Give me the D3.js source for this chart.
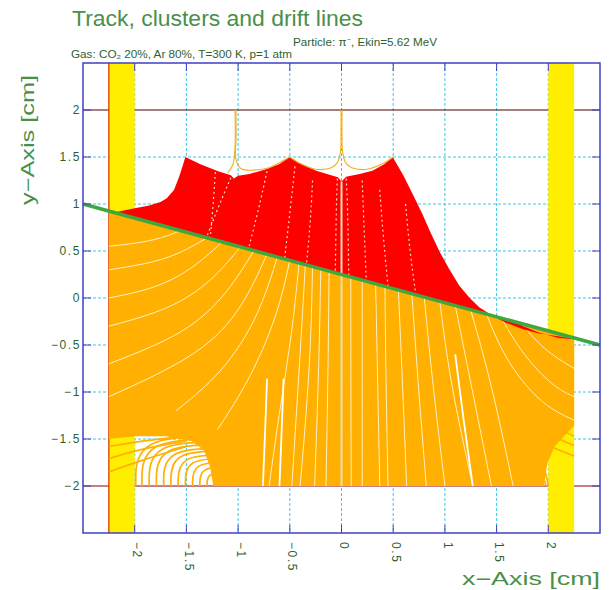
<!DOCTYPE html>
<html>
<head>
<meta charset="utf-8">
<script src="https://cdn.jsdelivr.net/npm/d3@7/dist/d3.min.js"></script>
<style>
  html, body { margin: 0; padding: 0; background: #ffffff; }
  svg { display: block; }
  text { font-family: "Liberation Sans", Arial, sans-serif; }
</style>
</head>
<body>
<svg id="chart" width="610" height="590"></svg>
<script>
// ---- axis ticks ----
const xTicks = [-2, -1.5, -1, -0.5, 0, 0.5, 1, 1.5, 2];
const xTickLabels = ["−2", "−1.5", "−1", "−0.5", "0", "0.5", "1", "1.5", "2"];
const yTicks = [-2, -1.5, -1, -0.5, 0, 0.5, 1, 1.5, 2];
const yTickLabels = ["−2", "−1.5", "−1", "−0.5", "0", "0.5", "1", "1.5", "2"];

// ---- geometry (cm) ----
const sideWalls = [[-2.25, -2.0], [2.0, 2.25]];
const planes = [2, -2];
const track = [[-2.5, 1.0], [2.5, -0.5]];

// region swept by ion drift lines (above the track)
const ionRegion = [
  [-2.2, 0.91], [-2.0, 0.955], [-1.86, 0.985], [-1.75, 1.02], [-1.69, 1.06], [-1.62, 1.15],
  [-1.57, 1.29], [-1.535, 1.41], [-1.51, 1.5],
  [-1.37, 1.425], [-1.2, 1.35], [-1.07, 1.305], [-1.04, 1.27], [-1.0, 1.3],
  [-0.89, 1.32], [-0.73, 1.37], [-0.6, 1.425], [-0.5, 1.5],
  [-0.406, 1.436], [-0.245, 1.354], [-0.116, 1.31], [-0.035, 1.284], [0, 1.24],
  [0.045, 1.29], [0.174, 1.32], [0.30, 1.354], [0.416, 1.426], [0.495, 1.5],
  [0.6, 1.3], [0.69, 1.1], [0.78, 0.9], [0.86, 0.7], [0.95, 0.49], [1.04, 0.31],
  [1.14, 0.13], [1.24, 0.0], [1.335, -0.1], [1.46, -0.19], [1.593, -0.265],
  [1.75, -0.33], [1.9, -0.375], [2.076, -0.404], [2.2, -0.425], [2.25, -0.44],
  [2.1, -0.425], [1.9, -0.365], [1.7, -0.275], [1.5, -0.2]
];

// region swept by electron drift lines (below the track)
const electronRegion = [
  [-2.25, 0.925], [2.25, -0.425],
  [2.25, -1.36], [2.16, -1.46], [2.06, -1.58], [1.99, -1.76], [1.96, -2.0],
  [-1.24, -2.0], [-1.27, -1.8], [-1.33, -1.62], [-1.45, -1.52], [-1.7, -1.47],
  [-2.0, -1.47], [-2.25, -1.5]
];

// electron drift lines at the sparse edges of the region
const electronFringe = [
  [[-1.1, -1.47], [-1.99, -1.47], [-1.99, -2.0]],
  [[-1.1, -1.5], [-1.93, -1.5], [-1.93, -2.0]],
  [[-1.1, -1.53], [-1.86, -1.53], [-1.86, -2.0]],
  [[-1.1, -1.56], [-1.79, -1.56], [-1.79, -2.0]],
  [[-1.1, -1.6], [-1.72, -1.6], [-1.72, -2.0]],
  [[-1.1, -1.63], [-1.65, -1.63], [-1.65, -2.0]],
  [[-1.1, -1.67], [-1.58, -1.67], [-1.58, -2.0]],
  [[-1.1, -1.71], [-1.51, -1.71], [-1.51, -2.0]],
  [[-1.1, -1.75], [-1.44, -1.75], [-1.44, -2.0]],
  [[-1.1, -1.8], [-1.37, -1.8], [-1.37, -2.0]],
  [[-1.1, -1.86], [-1.3, -1.86], [-1.3, -2.0]],
  [[-1.5, -1.47], [-2.0, -1.53], [-2.25, -1.58]],
  [[-1.5, -1.52], [-2.0, -1.62], [-2.25, -1.71]],
  [[-1.5, -1.58], [-2.0, -1.75], [-2.25, -1.85]],
  [[1.6, -1.1], [1.95, -1.32], [2.25, -1.47]],
  [[1.6, -1.2], [1.95, -1.43], [2.25, -1.57]],
  [[1.6, -1.3], [1.92, -1.52], [2.12, -1.63], [2.25, -1.68]],
  [[1.55, -1.4], [1.85, -1.62], [1.97, -1.8], [2.0, -2.0]],
  [[1.5, -1.45], [1.8, -1.65], [1.93, -1.82], [1.98, -2.0]]
];

// ion drift lines reaching the wires at y = 2
const wireLines = [
  [[-1.02, 2.0], [-1.02, 1.7], [-1.02, 1.47], [-0.97, 1.375], [-0.85, 1.36], [-0.72, 1.38], [-0.6, 1.44], [-0.5, 1.5]],
  [[-1.03, 2.0], [-1.03, 1.6], [-1.05, 1.42], [-1.1, 1.33]],
  [[-0.005, 2.0], [-0.005, 1.75], [-0.01, 1.56], [-0.04, 1.44], [-0.1, 1.385], [-0.25, 1.37], [-0.4, 1.43], [-0.5, 1.5]],
  [[0.005, 2.0], [0.005, 1.75], [0.01, 1.56], [0.04, 1.44], [0.1, 1.385], [0.25, 1.37], [0.4, 1.43], [0.5, 1.5]]
];

// light streaks between bundles of ion drift lines
const ionStreaks = [
  [[-1.22, 1.34], [-1.24, 1.0], [-1.27, 0.63]],
  [[-1.07, 1.28], [-1.18, 1.0], [-1.3, 0.66]],
  [[-0.72, 1.35], [-0.8, 0.95], [-0.9, 0.52]],
  [[-0.45, 1.4], [-0.5, 0.9], [-0.55, 0.42]],
  [[-0.28, 1.25], [-0.3, 0.8], [-0.34, 0.35]],
  [[-0.04, 1.27], [-0.05, 1.0], [-0.06, 0.27]],
  [[0.045, 1.27], [0.06, 1.0], [0.07, 0.23]],
  [[0.2, 1.25], [0.22, 0.7], [0.24, 0.18]],
  [[0.37, 1.15], [0.4, 0.7], [0.45, 0.12]],
  [[0.62, 1.0], [0.66, 0.5], [0.72, 0.03]]
];

// light streaks between bundles of electron drift lines
const electronStreaks = [
  [[-1.55, 0.72], [-1.75, 0.63], [-2.0, 0.58], [-2.25, 0.55]],
  [[-1.3, 0.64], [-1.6, 0.45], [-1.9, 0.36], [-2.25, 0.3]],
  [[-1.15, 0.6], [-1.45, 0.3], [-1.8, 0.1], [-2.25, 0.0]],
  [[-0.98, 0.54], [-1.25, 0.18], [-1.65, -0.12], [-2.25, -0.3]],
  [[-0.85, 0.5], [-1.1, 0.05], [-1.5, -0.38], [-2.25, -0.7]],
  [[-0.72, 0.47], [-0.95, -0.1], [-1.35, -0.6], [-2.25, -1.05]],
  [[-0.62, 0.44], [-0.8, -0.2], [-1.15, -0.8], [-1.6, -1.2]],
  [[-0.5, 0.4], [-0.62, -0.2], [-0.9, -0.9], [-1.2, -1.4]],
  [[-0.41, 0.37], [-0.48, -0.4], [-0.6, -1.2], [-0.7, -2.0]],
  [[-0.35, 0.35], [-0.4, -0.6], [-0.48, -2.0]],
  [[-0.28, 0.33], [-0.3, -0.7], [-0.4, -2.0]],
  [[-0.2, 0.31], [-0.22, -0.8], [-0.26, -2.0]],
  [[-0.12, 0.29], [-0.13, -0.8], [-0.15, -2.0]],
  [[0.09, 0.23], [0.09, -0.8], [0.094, -2.0]],
  [[0.2, 0.19], [0.2, -0.9], [0.2, -2.0]],
  [[0.33, 0.15], [0.35, -0.9], [0.37, -2.0]],
  [[0.42, 0.13], [0.43, -0.9], [0.45, -2.0]],
  [[0.55, 0.09], [0.59, -0.9], [0.63, -2.0]],
  [[0.68, 0.05], [0.74, -0.9], [0.82, -2.0]],
  [[0.8, 0.01], [0.88, -0.9], [1.0, -2.0]],
  [[0.95, -0.03], [1.05, -0.9], [1.27, -2.0]],
  [[1.1, -0.08], [1.25, -0.9], [1.45, -2.0]],
  [[1.25, -0.13], [1.45, -0.9], [1.66, -2.0]],
  [[1.4, -0.17], [1.6, -0.7], [1.95, -1.15], [2.25, -1.3]],
  [[1.55, -0.22], [1.75, -0.6], [2.05, -0.95], [2.25, -1.05]],
  [[1.75, -0.28], [1.95, -0.55], [2.25, -0.75]]
];

// wider empty gaps between electron bundles
const electronGaps = [
  [[-0.72, -0.86], [-0.74, -1.45], [-0.76, -2.0]],
  [[-0.56, -0.86], [-0.58, -1.45], [-0.6, -2.0]],
  [[1.1, -0.6], [1.18, -1.3], [1.27, -2.0]]
];
const centreLine = [[0, 1.24], [0, -2.0]];

// ---- layout ----
const svg = d3.select("#chart");
const x = d3.scaleLinear().domain([-2.5, 2.5]).range([83, 600]);
const y = d3.scaleLinear().domain([-2.5, 2.5]).range([533, 63]);
const [x0, x1] = x.range();
const [y0, y1] = y.range();

const TEXT_DARK = "#2f5f2f";
const TEXT_GREEN = "#4a8f4a";
const ORANGE = "#ffb000";
const RED = "#ff0000";

svg.append("rect").attr("width", 610).attr("height", 590).attr("fill", "#ffffff");

const through = d3.line().x(d => x(d[0])).y(d => y(d[1])).curve(d3.curveCatmullRom.alpha(0.5));
const smooth = d3.line().x(d => x(d[0])).y(d => y(d[1])).curve(d3.curveBasis);
const poly = d3.line().x(d => x(d[0])).y(d => y(d[1])).curve(d3.curveLinearClosed);

// grid
const grid = svg.append("g").attr("stroke", "#3cc6e6").attr("stroke-width", 1).attr("stroke-dasharray", "3,2");
grid.selectAll("line.gx").data(xTicks).join("line")
  .attr("x1", d => x(d)).attr("x2", d => x(d)).attr("y1", y1).attr("y2", y0);
grid.selectAll("line.gy").data(yTicks.filter(v => !planes.includes(v))).join("line")
  .attr("y1", d => y(d)).attr("y2", d => y(d)).attr("x1", x0).attr("x2", x1);

// planes
svg.append("g").selectAll("line").data(planes).join("line")
  .attr("x1", x0).attr("x2", x1).attr("y1", d => y(d)).attr("y2", d => y(d))
  .attr("stroke", (d, i) => i === 0 ? "#4a0000" : "#8b0000").attr("stroke-width", 1.2);

// side walls
svg.append("g").selectAll("rect").data(sideWalls).join("rect")
  .attr("x", d => x(d[0])).attr("width", d => x(d[1]) - x(d[0]))
  .attr("y", y1).attr("height", y0 - y1).attr("fill", "#ffee00");
svg.append("line").attr("x1", x(sideWalls[0][0])).attr("x2", x(sideWalls[0][0]))
  .attr("y1", y1).attr("y2", y0).attr("stroke", "#d83a00").attr("stroke-width", 1.3);

// electron drift region
svg.append("path").attr("d", poly(electronRegion)).attr("fill", ORANGE);
svg.append("g").attr("fill", "none").attr("stroke", ORANGE).attr("stroke-width", 1.7)
  .selectAll("path").data(electronFringe).join("path").attr("d", smooth);
svg.append("g").attr("fill", "none").attr("stroke", "#fff2c4").attr("stroke-width", 1)
  .selectAll("path").data(electronStreaks).join("path").attr("d", smooth);
svg.append("g").attr("fill", "none").attr("stroke", "#ffffff").attr("stroke-width", 1.8)
  .selectAll("path").data(electronGaps).join("path").attr("d", smooth);

// ion drift region
svg.append("path").attr("d", poly(ionRegion)).attr("fill", RED);
svg.append("g").attr("fill", "none").attr("stroke", "#ffd9c0").attr("stroke-width", 1.2)
  .attr("stroke-dasharray", "2,3")
  .selectAll("path").data(ionStreaks).join("path").attr("d", smooth);
svg.append("path").attr("d", smooth(centreLine)).attr("fill", "none")
  .attr("stroke", "#e6e0b8").attr("stroke-width", 2);
svg.append("g").attr("fill", "none").attr("stroke", "#f0b020").attr("stroke-width", 1.1)
  .selectAll("path").data(wireLines).join("path").attr("d", through);

// track
svg.append("line")
  .attr("x1", x(track[0][0])).attr("y1", y(track[0][1]))
  .attr("x2", x(track[1][0])).attr("y2", y(track[1][1]))
  .attr("stroke", "#3ea83e").attr("stroke-width", 3.5);

// frame and ticks
svg.append("rect").attr("x", x0).attr("y", y1).attr("width", x1 - x0).attr("height", y0 - y1)
  .attr("fill", "none").attr("stroke", "#4040c4").attr("stroke-width", 1.5);
const ticks = svg.append("g").attr("stroke", "#4040c4").attr("stroke-width", 1);
ticks.selectAll("line.b").data(xTicks).join("line").attr("class", "b")
  .attr("x1", d => x(d)).attr("x2", d => x(d)).attr("y1", y0).attr("y2", y0 - 8);
ticks.selectAll("line.t").data(xTicks).join("line").attr("class", "t")
  .attr("x1", d => x(d)).attr("x2", d => x(d)).attr("y1", y1).attr("y2", y1 + 8);
ticks.selectAll("line.l").data(yTicks).join("line").attr("class", "l")
  .attr("y1", d => y(d)).attr("y2", d => y(d)).attr("x1", x0).attr("x2", x0 + 8);
ticks.selectAll("line.r").data(yTicks).join("line").attr("class", "r")
  .attr("y1", d => y(d)).attr("y2", d => y(d)).attr("x1", x1).attr("x2", x1 - 8);

// tick labels
svg.append("g").selectAll("text").data(yTicks).join("text")
  .attr("x", 81).attr("y", d => y(d)).attr("dy", "0.36em")
  .attr("text-anchor", "end").attr("font-size", 12).attr("letter-spacing", 1.6)
  .attr("fill", TEXT_DARK).text((d, i) => yTickLabels[i]);
svg.append("g").selectAll("text").data(xTicks).join("text")
  .attr("transform", d => `translate(${x(d) + 3},542) rotate(90)`)
  .attr("dy", "0.36em").attr("font-size", 12).attr("letter-spacing", 1.6)
  .attr("fill", TEXT_DARK).text((d, i) => xTickLabels[i]);

// axis titles
svg.append("text").attr("x", 600).attr("y", 585).attr("text-anchor", "end")
  .attr("font-size", 18).attr("fill", TEXT_GREEN)
  .attr("textLength", 138).attr("lengthAdjust", "spacingAndGlyphs").text("x−Axis [cm]");
svg.append("text").attr("transform", "translate(34,205) rotate(-90)")
  .attr("font-size", 18).attr("fill", TEXT_GREEN)
  .attr("textLength", 130).attr("lengthAdjust", "spacingAndGlyphs").text("y−Axis [cm]");

// titles
svg.append("text").attr("x", 72).attr("y", 26).attr("font-size", 22).attr("fill", TEXT_GREEN)
  .attr("textLength", 291).attr("lengthAdjust", "spacingAndGlyphs").text("Track, clusters and drift lines");
svg.append("text").attr("x", 293).attr("y", 46).attr("font-size", 10.5).attr("fill", TEXT_DARK)
  .attr("textLength", 144).attr("lengthAdjust", "spacingAndGlyphs").text("Particle: π⁻, Ekin=5.62 MeV");
svg.append("text").attr("x", 71).attr("y", 58).attr("font-size", 10.5).attr("fill", TEXT_DARK)
  .attr("textLength", 221).attr("lengthAdjust", "spacingAndGlyphs").text("Gas: CO₂ 20%, Ar 80%, T=300 K, p=1 atm");
</script>
</body>
</html>
